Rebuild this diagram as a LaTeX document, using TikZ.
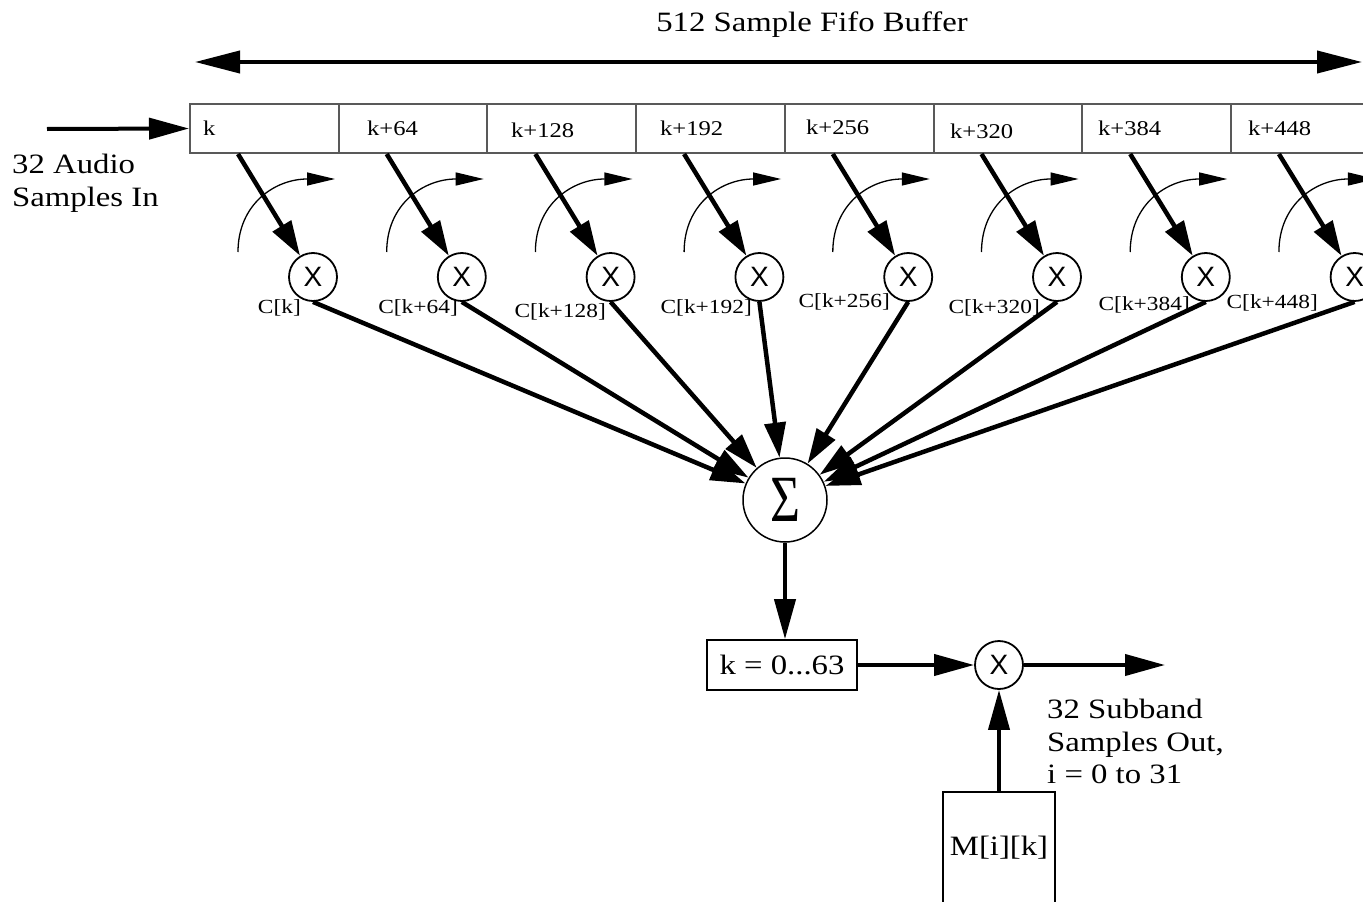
\documentclass[tikz,border=0pt]{standalone}
\usepackage{fontspec}
\setmainfont{Liberation Serif}[FakeStretch=1.17]
\newfontfamily\xfont{Liberation Sans}
\usetikzlibrary{arrows.meta,calc}
\begin{document}
\begin{tikzpicture}[x=1pt,y=-1pt,
 cell/.style={draw=black!65, line width=2pt, minimum width=148.7pt, minimum height=49pt, inner sep=0pt, anchor=north west},
 mult/.style={circle, draw, line width=1.8pt, minimum size=48pt, inner sep=0pt, font=\xfont\fontsize{28}{28}\selectfont},
 box/.style={draw, line width=1.6pt, inner sep=0pt, font=\fontsize{28}{28}\selectfont},
 big/.style={-{Triangle[length=40pt,width=21pt]}, line width=4pt},
 feed/.style={-{Triangle[length=35pt,width=21pt]}, line width=4.5pt},
 rot/.style={-{Triangle[length=28pt,width=13pt]}, line width=1.3pt},
 lbl/.style={font=\fontsize{28}{32.5}\selectfont, align=left, inner sep=0pt, anchor=north west},
 cellt/.style={font=\fontsize{21}{21}\selectfont, inner sep=0pt, anchor=base west},
 coef/.style={font=\fontsize{20}{20}\selectfont, inner sep=0pt, anchor=base east}
]
\clip (0,0) rectangle (1363,902);

% title and double arrow
\node[font=\fontsize{28}{28}\selectfont, inner sep=0pt, anchor=base] (title) at (812,31) {512 Sample Fifo Buffer};
\coordinate (tl) at (195,62);
\coordinate (tr) at (1362,62);
\draw[{Triangle[length=45pt,width=22pt]}-{Triangle[length=45pt,width=22pt]}, line width=4pt] (tl) -- (tr);

% buffer cells
\foreach \i in {0,...,7} {
  \node[cell] (c\i) at ({189+148.7*\i},103) {};
}
\foreach \i/\x/\y/\t in {0/203/135/k, 1/367/135/k+64, 2/511/137/k+128, 3/660/135/k+192,
                          4/806/134/k+256, 5/950/138/k+320, 6/1098/135/k+384, 7/1248/135/k+448} {
  \node[cellt] (ct\i) at (\x,\y) {\t};
}

% input
\node[lbl] (inlbl) at (12,154) {32 Audio\\Samples In};
\coordinate (inS) at (47,129);
\draw[big] (inS) -- (c0.west);

% multipliers
\foreach \i in {0,...,7} {
  \node[mult] (m\i) at ({313+148.8*\i},277) {X};
}
% coefficient labels
\foreach \i/\x/\y/\t in {0/301/313/C[k], 1/458/313/C[k+64], 2/606/317/C[k+128], 3/752/313/C[k+192],
                          4/890/307/C[k+256], 5/1040/313/C[k+320], 6/1190/310/C[k+384], 7/1318/308/C[k+448]} {
  \node[coef] (cl\i) at (\x,\y) {\t};
}

% feed arrows and rotation arcs
\foreach \i in {0,...,7} {
  \coordinate (s\i) at ($(c\i.south west)+(49,0)$);
  \coordinate (a\i) at ($(c\i.south west)+(49,98)$);
  \coordinate (b\i) at ($(c\i.south west)+(146,25)$);
  \draw[rot] (a\i) .. controls +(0,-48) and +(-60,0) .. (b\i);
  \draw[feed] (s\i) -- (m\i);
}

% summation
\node[circle, draw, line width=1.5pt, minimum size=84pt, inner sep=0pt] (sum) at (785,500)
  {\scalebox{1}[1.5]{\fontsize{44}{44}\selectfont Σ}};
\foreach \i in {0,...,7} {
  \draw[feed] (m\i.south) -- (sum);
}

% lower chain
\node[box, minimum width=150pt, minimum height=50pt] (kb) at (782,665) {k = 0...63};
\draw[big] (sum.south) -- (sum.south |- kb.north);
\node[mult] (mo) at (999,665) {X};
\draw[big] (kb) -- (mo);
\coordinate (out) at (1165,665);
\draw[big] (mo) -- (out);
\node[lbl] (outlbl) at (1047,699) {32 Subband\\Samples Out,\\i = 0 to 31};
\node[box, minimum width=112pt, minimum height=112pt] (mb) at (999,848) {M[i][k]};
\draw[big] (mb) -- (mo);
\end{tikzpicture}
\end{document}
